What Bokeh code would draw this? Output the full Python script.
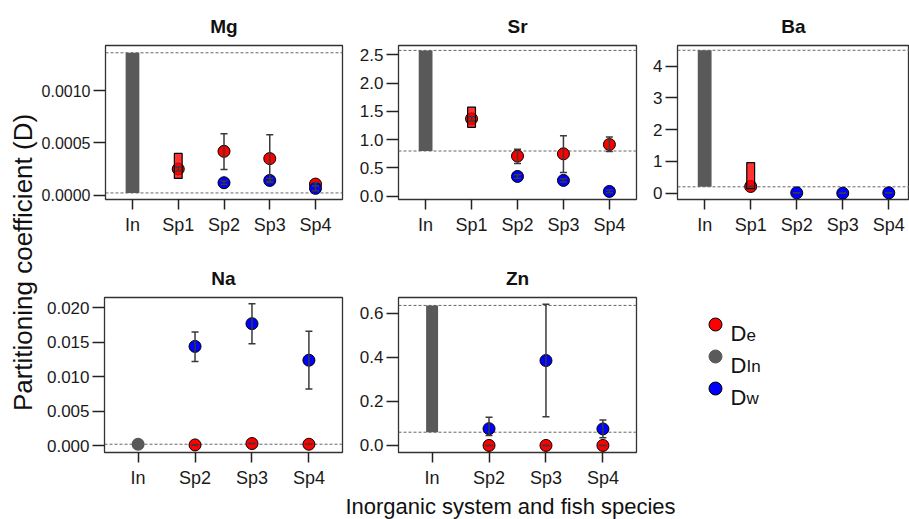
import math
from bokeh.plotting import figure
from bokeh.models import (Range1d, FixedTicker, NumeralTickFormatter, Span,
                          Whisker, TeeHead, ColumnDataSource)
from bokeh.layouts import row, column
from bokeh.core.properties import value
from bokeh.embed import file_html
from bokeh.resources import INLINE

nan = float("nan")

# ---------------- data ----------------
CATS_TOP = ["In", "Sp1", "Sp2", "Sp3", "Sp4"]
CATS_BOT = ["In", "Sp2", "Sp3", "Sp4"]

# inorganic range (D_In): low / high
MG_IN = [0.00002, 0.001367]
SR_IN = [0.80, 2.58]
BA_IN = [0.20, 4.50]
NA_IN = [0.0002, 0.0002]
ZN_IN = [0.06, 0.635]

# D_e (red) : value, lower, upper  (per category)
MG_DE = [nan, 0.00025, 0.00042, 0.00035, 0.000105]
MG_DE_LO = [nan, 0.00023, 0.000246, 0.00013, 0.00009]
MG_DE_HI = [nan, 0.00027, 0.00059, 0.00058, 0.00012]
SR_DE = [nan, 1.37, 0.71, 0.75, 0.915]
SR_DE_LO = [nan, 1.33, 0.58, 0.42, 0.79]
SR_DE_HI = [nan, 1.41, 0.83, 1.07, 1.05]
BA_DE = [nan, 0.21, nan, nan, nan]
BA_DE_LO = [nan, 0.20, nan, nan, nan]
BA_DE_HI = [nan, 0.22, nan, nan, nan]
NA_DE = [nan, 0.0001, 0.0003, 0.0002]
NA_DE_LO = [nan, 0.0001, 0.0003, 0.0002]
NA_DE_HI = [nan, 0.0001, 0.0003, 0.0002]
ZN_DE = [nan, 0.0, 0.0, 0.0]
ZN_DE_LO = [nan, 0.0, 0.0, 0.0]
ZN_DE_HI = [nan, 0.0, 0.0, 0.0]

# Sp1 range box (D_e)
MG_BOX = [0.00016, 0.0004]
SR_BOX = [1.22, 1.575]
BA_BOX = [0.14, 0.96]

# D_w (blue)
MG_DW = [nan, nan, 0.000118, 0.00014, 0.000064]
MG_DW_LO = [nan, nan, 0.0001, 0.00012, 0.00004]
MG_DW_HI = [nan, nan, 0.000135, 0.00016, 0.00009]
SR_DW = [nan, nan, 0.35, 0.28, 0.085]
SR_DW_LO = [nan, nan, 0.32, 0.25, 0.06]
SR_DW_HI = [nan, nan, 0.38, 0.31, 0.11]
BA_DW = [nan, nan, 0.01, 0.0, 0.01]
BA_DW_LO = [nan, nan, 0.01, 0.0, 0.01]
BA_DW_HI = [nan, nan, 0.01, 0.0, 0.01]
NA_DW = [nan, 0.0144, 0.0177, 0.0124]
NA_DW_LO = [nan, 0.0122, 0.0148, 0.0082]
NA_DW_HI = [nan, 0.0165, 0.0206, 0.0166]
ZN_DW = [nan, 0.076, 0.385, 0.075]
ZN_DW_LO = [nan, 0.045, 0.13, 0.035]
ZN_DW_HI = [nan, 0.128, 0.64, 0.115]

LEG_COLORS = ["#FF0000", "#5A5A5A", "#0000FF"]
LEG_LINES = ["black", "#5A5A5A", "black"]
LEG_SUB = ["e", "In", "w"]

RED = "#FF0000"
BLUE = "#0000FF"
GRAY = "#595959"
ERR = "#3A3A3A"
FONT = "Liberation Sans"


def whisker(p, xs, ys, lo, hi):
    keep = [i for i in range(len(xs)) if not math.isnan(ys[i])]
    src = ColumnDataSource(dict(x=[xs[i] for i in keep],
                                lo=[lo[i] for i in keep],
                                hi=[hi[i] for i in keep]))
    w = Whisker(source=src, base="x", lower="lo", upper="hi", dimension="height",
                line_color=ERR, line_width=1.5, level="overlay",
                upper_head=TeeHead(size=7, line_color=ERR, line_width=1.5),
                lower_head=TeeHead(size=7, line_color=ERR, line_width=1.5))
    p.add_layout(w)


def make_panel(name, cats, de, de_lo, de_hi, dw, dw_lo, dw_hi, inr, box,
               y_lim, y_ticks, y_fmt, x_lim, bar_w, geom, ytick_size="17px"):
    w, h, bl, br, bt, bb = geom
    p = figure(width=w, height=h, x_range=Range1d(*x_lim), y_range=Range1d(*y_lim),
               output_backend="svg", toolbar_location=None,
               min_border_left=bl, min_border_right=br,
               min_border_top=bt, min_border_bottom=bb, title=name)
    p.grid.visible = False
    p.outline_line_color = "#333333"
    p.outline_line_width = 1.3
    p.background_fill_color = "white"
    p.border_fill_color = "white"
    p.title.align = "center"
    p.title.text_font = FONT
    p.title.text_font_style = "bold"
    p.title.text_font_size = "19px"
    p.title.text_color = "#111111"
    p.title.standoff = 18

    xs = list(range(len(cats)))
    p.xaxis.ticker = FixedTicker(ticks=xs)
    p.xaxis.major_label_overrides = {i: c for i, c in enumerate(cats)}
    p.yaxis.ticker = FixedTicker(ticks=y_ticks)
    p.yaxis.formatter = NumeralTickFormatter(format=y_fmt)
    for ax in p.axis:
        ax.axis_line_color = None
        ax.major_tick_in = 0
        ax.minor_tick_in = 0
        ax.minor_tick_out = 0
        ax.major_tick_line_color = "#222222"
        ax.major_tick_line_width = 1.5
        ax.major_label_text_font = FONT
        ax.major_label_text_color = "#1A1A1A"
    p.yaxis.major_tick_out = 12
    p.yaxis.major_label_standoff = 3
    p.yaxis.major_label_text_font_size = ytick_size
    p.xaxis.major_tick_out = 10
    p.xaxis.major_label_standoff = 5
    p.xaxis.major_label_text_font_size = "18px"

    # dashed lines at the inorganic range
    for v in sorted(set(inr)):
        p.add_layout(Span(location=v, dimension="width", line_color="#666666",
                          line_dash="3 2", line_width=1, level="underlay"))
    if inr[1] > inr[0]:
        p.vbar(x=[xs[0]], bottom=[inr[0]], top=[inr[1]], width=bar_w,
               fill_color=GRAY, line_color=None)
    else:
        p.scatter(x=[xs[0]], y=[inr[0]], size=13, marker="circle",
                  fill_color=GRAY, line_color=None)

    p.scatter(x=xs, y=de, size=12, marker="circle", fill_color=RED,
              line_color="black", line_width=1)
    if box is not None:
        p.vbar(x=[cats.index("Sp1")], bottom=[box[0]], top=[box[1]], width=0.17,
               fill_color=RED, fill_alpha=0.8, line_color="black", line_width=1.2)
    p.scatter(x=xs, y=dw, size=12, marker="circle", fill_color=BLUE,
              line_color="black", line_width=1)
    whisker(p, xs, de, de_lo, de_hi)
    whisker(p, xs, dw, dw_lo, dw_hi)
    return p


def text_fig(w, h, x_lim, y_lim, borders=(0, 0, 0, 0)):
    bl, br, bt, bb = borders
    f = figure(width=w, height=h, x_range=Range1d(*x_lim), y_range=Range1d(*y_lim),
               output_backend="svg", toolbar_location=None, title=None,
               min_border_left=bl, min_border_right=br,
               min_border_top=bt, min_border_bottom=bb,
               x_axis_type=None, y_axis_type=None)
    f.grid.visible = False
    f.outline_line_color = None
    return f


TOP_X = (-0.59, 4.59)
BOT_X = (-0.59, 3.59)

mg = make_panel("Mg", CATS_TOP, MG_DE, MG_DE_LO, MG_DE_HI, MG_DW, MG_DW_LO, MG_DW_HI,
                MG_IN, MG_BOX, (-0.000043, 0.001437), [0, 0.0005, 0.001], "0.0000",
                TOP_X, 0.3, (310, 250, 66, 6, 45, 51), ytick_size="16px")
sr = make_panel("Sr", CATS_TOP, SR_DE, SR_DE_LO, SR_DE_HI, SR_DW, SR_DW_LO, SR_DW_HI,
                SR_IN, SR_BOX, (-0.058, 2.667), [0, 0.5, 1.0, 1.5, 2.0, 2.5], "0.0",
                TOP_X, 0.3, (294, 250, 50, 6, 45, 51))
ba = make_panel("Ba", CATS_TOP, BA_DE, BA_DE_LO, BA_DE_HI, BA_DW, BA_DW_LO, BA_DW_HI,
                BA_IN, BA_BOX, (-0.2, 4.65), [0, 1, 2, 3, 4], "0",
                (-0.59, 4.45), 0.3, (267, 250, 35, 0, 45, 51))
na = make_panel("Na", CATS_BOT, NA_DE, NA_DE_LO, NA_DE_HI, NA_DW, NA_DW_LO, NA_DW_HI,
                NA_IN, None, (-0.001, 0.0215), [0, 0.005, 0.01, 0.015, 0.02], "0.000",
                BOT_X, 0.21, (310, 240, 66, 6, 47, 38))
zn = make_panel("Zn", CATS_BOT, ZN_DE, ZN_DE_LO, ZN_DE_HI, ZN_DW, ZN_DW_LO, ZN_DW_HI,
                ZN_IN, None, (-0.032, 0.671), [0, 0.2, 0.4, 0.6], "0.0",
                BOT_X, 0.21, (294, 240, 50, 6, 47, 38))

# legend panel: frame spans page x 642..909, page y 297..452 (aligned with Na/Zn frames)
leg = text_fig(267, 240, (642, 909), (452, 297), borders=(0, 0, 47, 38))
n = len(LEG_SUB)
ly = [324 + 32 * i for i in range(n)]
leg.scatter(x=[715] * n, y=ly, size=13, marker="circle", fill_color=LEG_COLORS,
            line_color=LEG_LINES, line_width=1)
leg.text(x=[730] * n, y=[v + 9 for v in ly], text=["D"] * n, text_font=value(FONT),
         text_font_size="22px", text_baseline="alphabetic", text_align="left",
         text_color="#111111")
leg.text(x=[746] * n, y=[v + 10 for v in ly], text=LEG_SUB, text_font=value(FONT),
         text_font_size="17px", text_baseline="alphabetic", text_align="left",
         text_color="#111111")

# y-axis title, page coordinates (x 0..38, y 519..0)
ylab = text_fig(38, 519, (0, 38), (519, 0))
ylab.text(x=[22], y=[262], text=["Partitioning coefficient (D)"], angle=math.pi / 2,
          text_font=value(FONT), text_font_size="26px", text_align="center",
          text_baseline="middle", text_color="#111111")

# x-axis title, page coordinates (x 38..909, y 519..490)
xlab = text_fig(871, 29, (38, 909), (519, 490))
xlab.text(x=[510], y=[506], text=["Inorganic system and fish species"],
          text_font=value(FONT), text_font_size="22px", text_align="center",
          text_baseline="middle", text_color="#111111")

layout = row(ylab, column(row(mg, sr, ba), row(na, zn, leg), xlab))

open("out.html", "w").write(file_html(layout, INLINE))
